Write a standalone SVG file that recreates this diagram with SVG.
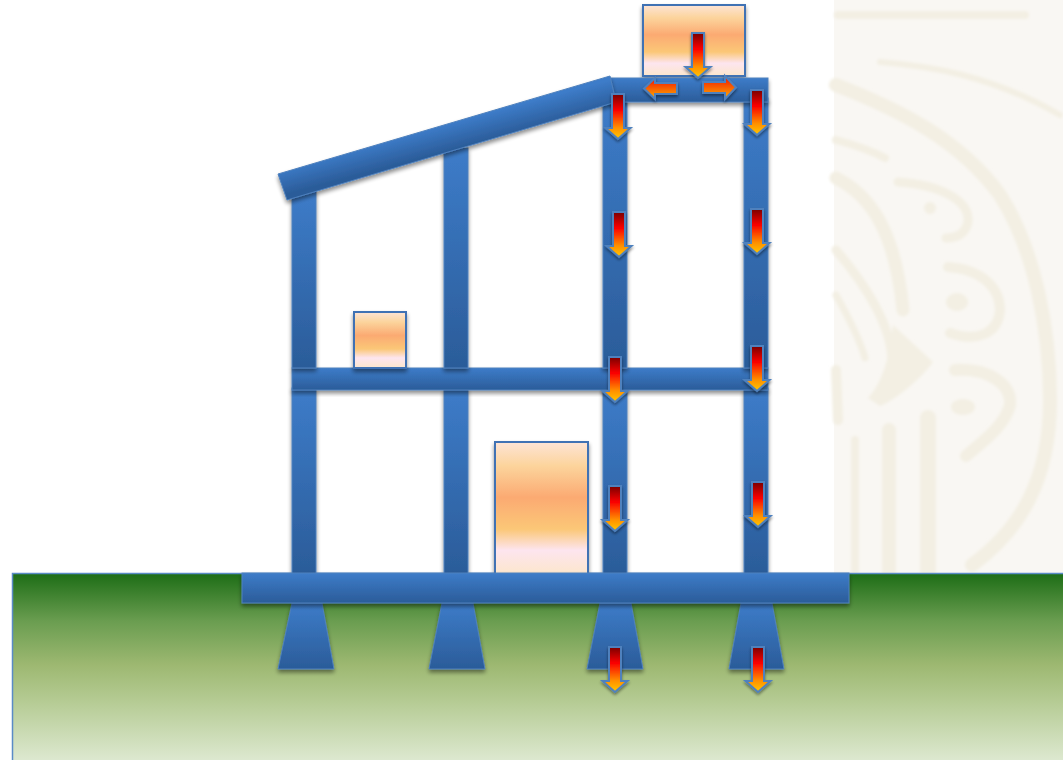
<svg xmlns="http://www.w3.org/2000/svg" width="1063" height="760" viewBox="0 0 1063 760">
<style>
.sw{fill:none;stroke:#f3efe3;stroke-linecap:round;stroke-linejoin:round}
.dot{fill:#f3efe3}
.st{fill:url(#steel);stroke:#4f81bd;stroke-width:1;filter:url(#sh)}
.load{fill:url(#box);stroke:#3f72b4;stroke-width:2;filter:url(#sh)}
.ar{stroke:#4f81bd;stroke-width:2;stroke-linejoin:miter;filter:url(#sh2)}
</style>
<defs>
<linearGradient id="steel" x1="0" y1="0" x2="0" y2="1"><stop offset="0" stop-color="#3d7cc9"/><stop offset="1" stop-color="#2b5c99"/></linearGradient>
<linearGradient id="roofg" gradientUnits="userSpaceOnUse" x1="445" y1="124" x2="452" y2="150"><stop offset="0" stop-color="#3d7cc9"/><stop offset="1" stop-color="#2b5c99"/></linearGradient>
<linearGradient id="ground" x1="0" y1="0" x2="0" y2="1"><stop offset="0" stop-color="#1d6d16"/><stop offset=".25" stop-color="#6a9d50"/><stop offset=".48" stop-color="#9db871"/><stop offset=".68" stop-color="#b6cc95"/><stop offset="1" stop-color="#dfead3"/></linearGradient>
<linearGradient id="box" x1="0" y1="0" x2="0" y2="1"><stop offset="0" stop-color="#fde4d6"/><stop offset=".18" stop-color="#fcd49c"/><stop offset=".42" stop-color="#fbaa72"/><stop offset=".66" stop-color="#fbc777"/><stop offset=".82" stop-color="#fde5ef"/><stop offset="1" stop-color="#fce6cc"/></linearGradient>
<linearGradient id="down" x1="0" y1="0" x2="0" y2="1"><stop offset="0" stop-color="#780000"/><stop offset=".35" stop-color="#fa0000"/><stop offset=".75" stop-color="#ff9000"/><stop offset="1" stop-color="#ffc800"/></linearGradient>
<linearGradient id="side" x1="0" y1="0" x2="0" y2="1"><stop offset="0" stop-color="#f01000"/><stop offset="1" stop-color="#ffb000"/></linearGradient>
<filter id="sh" x="-30%" y="-30%" width="160%" height="160%"><feGaussianBlur in="SourceAlpha" stdDeviation="2"/><feOffset dy="3"/><feComponentTransfer><feFuncA type="linear" slope=".45"/></feComponentTransfer><feMerge><feMergeNode/><feMergeNode in="SourceGraphic"/></feMerge></filter>
<filter id="sh2" x="-40%" y="-20%" width="180%" height="140%"><feGaussianBlur in="SourceAlpha" stdDeviation="1.5"/><feOffset dy="2"/><feComponentTransfer><feFuncA type="linear" slope=".45"/></feComponentTransfer><feMerge><feMergeNode/><feMergeNode in="SourceGraphic"/></feMerge></filter>
<filter id="soft"><feGaussianBlur stdDeviation="1.5"/></filter>
<polygon id="arrow" points="-6,0 6,0 6,34 12.5,34 0,45 -12.5,34 -6,34"/>
</defs>
<rect width="1063" height="760" fill="#fff"/>
<g id="backdrop">
<rect x="834" y="0" width="229" height="574" fill="#f9f7f3"/>
<g filter="url(#soft)">
<path class="sw" stroke-width="8" d="M838 15H1025"/>
<path class="sw" stroke-width="6" d="M880 62C930 66 990 75 1060 115"/>
<path class="sw" stroke-width="14" d="M836 85C900 110 960 140 1000 195C1035 250 1050 330 1050 400C1050 480 1020 530 972 565"/>
<path class="sw" stroke-width="8" d="M836 140C855 145 870 150 885 158"/>
<path class="sw" stroke-width="13" d="M836 178C870 195 895 230 903 310"/>
<path class="sw" stroke-width="9" d="M836 250C870 290 892 330 892 362"/>
<path class="sw" stroke-width="7" d="M836 295C850 320 860 340 865 358"/>
<path class="dot" d="M868 398C885 380 890 350 893 325L933 362C920 380 895 400 880 406Z"/>
<path class="sw" stroke-width="9" d="M898 182C940 185 970 200 968 222C965 235 955 238 946 238"/>
<circle class="dot" cx="930" cy="208" r="6"/>
<path class="sw" stroke-width="10" d="M948 267C985 270 1000 290 1000 310C998 335 975 342 950 333"/>
<ellipse class="dot" cx="957" cy="302" rx="11" ry="9"/>
<path class="sw" stroke-width="12" d="M955 370C990 368 1012 385 1010 405C1005 425 985 440 966 456"/>
<ellipse class="dot" cx="963" cy="407" rx="12" ry="8"/>
<path class="sw" stroke-width="8" d="M855 440V573"/>
<path class="sw" stroke-width="14" d="M889 430V573"/>
<path class="sw" stroke-width="16" d="M928 418V573"/>
<path class="sw" stroke-width="10" d="M836 370L838 420"/>
</g>
</g>
<g id="ground-block"><rect x="12.500" y="573.500" width="1060" height="190" fill="url(#ground)" stroke="#5a8bc6" stroke-width="1.500"/></g>
<g id="columns-lower">
<rect class="st" x="292" y="388" width="24" height="186"/>
<rect class="st" x="444" y="388" width="24" height="186"/>
<rect class="st" x="603" y="388" width="24" height="186"/>
<rect class="st" x="744" y="388" width="24" height="186"/>
</g>
<g id="floor-beam"><rect class="st" x="292" y="368" width="476" height="22"/></g>
<g id="columns-upper">
<rect class="st" x="292" y="190" width="24" height="178"/>
<rect class="st" x="444" y="148" width="24" height="220"/>
<rect class="st" x="603" y="98" width="24" height="270"/>
<rect class="st" x="744" y="98" width="24" height="270"/>
</g>
<g id="box-top"><rect class="load" x="643" y="5" width="102" height="71"/></g>
<g id="box-small"><rect class="load" x="354" y="312" width="52" height="56"/></g>
<g id="box-large"><rect class="load" x="495" y="442" width="93" height="132"/></g>
<g id="roof-beam"><rect class="st" x="610" y="78" width="158" height="24"/></g>
<g id="roof-slope"><polygon points="278,174 610,76 616,102 287,200" fill="url(#roofg)" stroke="#4f81bd" filter="url(#sh)"/></g>
<g id="footings">
<polygon class="st" points="292,603 322,603 334,669 278,669"/>
<polygon class="st" points="442,603 473,603 485,669 429,669"/>
<polygon class="st" points="600,603 631,603 643,669 587,669"/>
<polygon class="st" points="741,603 772,603 784,669 729,669"/>
</g>
<g id="foundation-beam"><rect class="st" x="242" y="573" width="607" height="30"/></g>
<g id="load-arrows" fill="url(#down)">
<use href="#arrow" class="ar" x="698" y="33"/>
<use href="#arrow" class="ar" x="618" y="94"/>
<use href="#arrow" class="ar" x="757" y="90"/>
<use href="#arrow" class="ar" x="619" y="212"/>
<use href="#arrow" class="ar" x="757" y="209"/>
<use href="#arrow" class="ar" x="615" y="357"/>
<use href="#arrow" class="ar" x="757" y="346"/>
<use href="#arrow" class="ar" x="615" y="486"/>
<use href="#arrow" class="ar" x="758" y="482"/>
<use href="#arrow" class="ar" x="615" y="647"/>
<use href="#arrow" class="ar" x="758" y="647"/>
<polygon class="ar" fill="url(#side)" points="677,83 655,83 655,78 644,88.500 655,99 655,94 677,94"/>
<polygon class="ar" fill="url(#side)" points="703,82 725,82 725,76 736,87.500 725,99 725,93 703,93"/>
</g>
</svg>
